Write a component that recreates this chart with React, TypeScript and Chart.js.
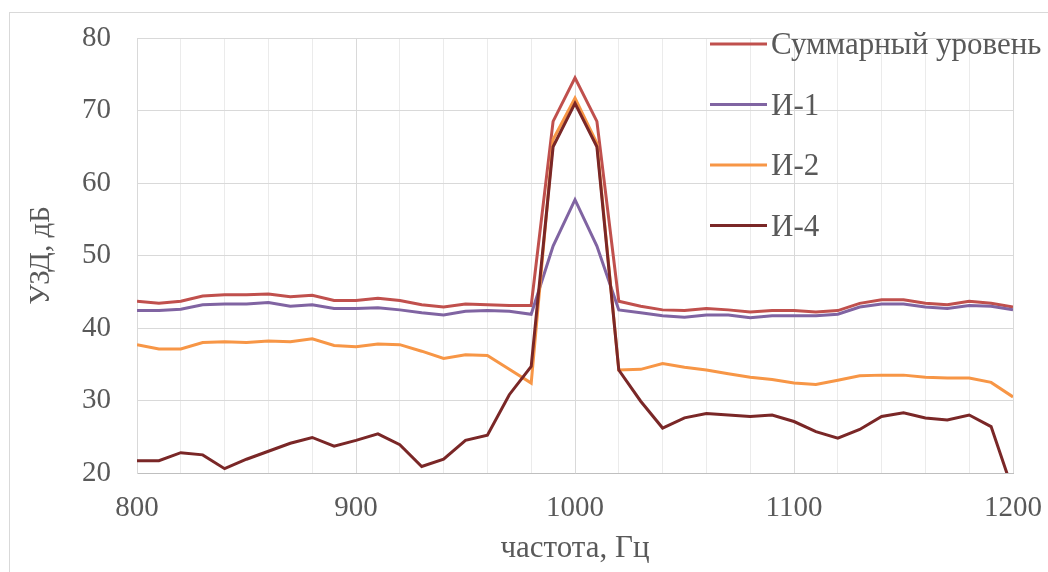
import React, { useEffect, useRef } from 'react';
import { Chart, registerables } from 'chart.js';

Chart.register(...registerables);

// Frequencies, Hz
const frequencies = [
  800, 810, 820, 830, 840, 850, 860, 870, 880, 890,
  900, 910, 920, 930, 940, 950, 960, 970, 980, 990,
  1000, 1010, 1020, 1030, 1040, 1050, 1060, 1070, 1080, 1090,
  1100, 1110, 1120, 1130, 1140, 1150, 1160, 1170, 1180, 1190,
  1200,
];

const seriesLabels = ['Суммарный уровень', 'И-1', 'И-2', 'И-4'];
const seriesColors = ['#C0504D', '#8064A2', '#F79646', '#7A2727'];

// УЗД, дБ
const sumLevel = [
  43.7, 43.4, 43.7, 44.4, 44.6, 44.6, 44.7, 44.3, 44.5, 43.8,
  43.8, 44.1, 43.8, 43.2, 42.9, 43.3, 43.2, 43.1, 43.1, 68.5,
  74.5, 68.5, 43.7, 43.0, 42.5, 42.4, 42.7, 42.5, 42.2, 42.4,
  42.4, 42.2, 42.4, 43.4, 43.9, 43.9, 43.4, 43.2, 43.7, 43.4,
  42.9,
];
const i1Level = [
  42.4, 42.4, 42.6, 43.2, 43.3, 43.3, 43.5, 43.0, 43.2, 42.7,
  42.7, 42.8, 42.5, 42.1, 41.8, 42.3, 42.4, 42.3, 41.9, 51.3,
  57.7, 51.3, 42.5, 42.1, 41.7, 41.5, 41.8, 41.8, 41.4, 41.7,
  41.7, 41.7, 41.9, 42.9, 43.3, 43.3, 42.9, 42.7, 43.1, 43.0,
  42.5,
];
const i2Level = [
  37.7, 37.1, 37.1, 38.0, 38.1, 38.0, 38.2, 38.1, 38.5, 37.6,
  37.4, 37.8, 37.7, 36.8, 35.8, 36.3, 36.2, 34.3, 32.4, 66.0,
  71.7, 65.5, 34.2, 34.3, 35.1, 34.6, 34.2, 33.7, 33.2, 32.9,
  32.4, 32.2, 32.8, 33.4, 33.5, 33.5, 33.2, 33.1, 33.1, 32.5,
  30.5,
];
const i4Level = [
  21.7, 21.7, 22.8, 22.5, 20.6, 21.9, 23.0, 24.1, 24.9, 23.7,
  24.5, 25.4, 23.9, 20.9, 21.9, 24.5, 25.2, 30.8, 34.7, 65.0,
  71.0, 65.0, 34.2, 29.9, 26.2, 27.6, 28.2, 28.0, 27.8, 28.0,
  27.1, 25.7, 24.8, 26.0, 27.8, 28.3, 27.6, 27.3, 28.0, 26.4,
  17.5,
];

const seriesValues = [sumLevel, i1Level, i2Level, i4Level];

const xLabelValues = [800, 900, 1000, 1100, 1200];
const xTitle = 'частота, Гц';
const yTitle = 'УЗД, дБ';

const FONT = '"Liberation Serif", "Times New Roman", serif';
const TEXT_COLOR = '#595959';

const frameAndLegend = {
  id: 'frameAndLegend',
  beforeDraw(chart: any) {
    const { ctx } = chart;
    ctx.save();
    ctx.strokeStyle = '#d9d9d9';
    ctx.lineWidth = 1;
    ctx.strokeRect(9.5, 12.5, 1200, 700);
    ctx.restore();
  },
  afterDatasetsDraw(chart: any) {
    const { ctx, chartArea } = chart;
    ctx.save();
    const x0 = chartArea.right - 303;
    const y0 = chartArea.top + 6;
    chart.data.datasets.forEach((ds: any, i: number) => {
      const y = y0 + i * 60.5;
      ctx.strokeStyle = ds.borderColor;
      ctx.lineWidth = 3;
      ctx.beginPath();
      ctx.moveTo(x0, y);
      ctx.lineTo(x0 + 57, y);
      ctx.stroke();
      ctx.fillStyle = TEXT_COLOR;
      ctx.font = `31px ${FONT}`;
      ctx.textAlign = 'left';
      ctx.textBaseline = 'middle';
      ctx.fillText(ds.label, x0 + 61, y + 2);
    });
    ctx.restore();
  },
};

export default function App() {
  const ref = useRef<HTMLCanvasElement>(null);

  useEffect(() => {
    document.body.style.margin = '0';
    const canvas = ref.current;
    if (!canvas) return;
    const chart = new Chart(canvas, {
      type: 'line',
      data: {
        datasets: seriesLabels.map((label, si) => ({
          label,
          data: frequencies.map((f, i) => ({ x: f, y: seriesValues[si][i] })),
          borderColor: seriesColors[si],
          backgroundColor: seriesColors[si],
          borderWidth: 3,
          pointRadius: 0,
          tension: 0,
          fill: false,
          order: seriesLabels.length - si,
        })),
      },
      options: {
        responsive: false,
        animation: false,
        events: [],
        layout: { padding: { left: 0, top: 38, right: 35, bottom: 0 } },
        plugins: {
          legend: { display: false },
          tooltip: { enabled: false },
        },
        scales: {
          x: {
            type: 'linear',
            min: 800,
            max: 1200,
            afterFit: (scale: any) => {
              scale.height = 99;
              scale.paddingLeft = 0;
              scale.paddingRight = 0;
            },
            ticks: {
              stepSize: 20,
              autoSkip: false,
              maxRotation: 0,
              minRotation: 0,
              padding: 18,
              color: TEXT_COLOR,
              font: { family: FONT, size: 29, lineHeight: 1.2 },
              callback: (v: any) => (xLabelValues.includes(Number(v)) ? String(v) : ''),
            },
            grid: {
              drawTicks: false,
              color: (c: any) =>
                c.tick && xLabelValues.includes(c.tick.value) ? '#d9d9d9' : '#ebebeb',
            },
            border: { color: '#bfbfbf', width: 1 },
            title: {
              display: true,
              text: xTitle,
              color: TEXT_COLOR,
              font: { family: FONT, size: 31, lineHeight: 1.2 },
              padding: { top: 0, bottom: 5 },
            },
          },
          y: {
            min: 20,
            max: 80,
            afterFit: (scale: any) => {
              scale.width = 137;
              scale.paddingTop = 0;
              scale.paddingBottom = 0;
            },
            ticks: {
              stepSize: 10,
              padding: 26,
              color: TEXT_COLOR,
              font: { family: FONT, size: 29, lineHeight: 1.2 },
            },
            grid: { drawTicks: false, color: '#d9d9d9' },
            border: { color: '#d9d9d9', width: 1 },
            title: {
              display: true,
              text: yTitle,
              color: TEXT_COLOR,
              font: { family: FONT, size: 29, lineHeight: 1.2 },
              padding: { top: 24, bottom: 0 },
            },
          },
        },
      },
      plugins: [frameAndLegend],
    });
    return () => chart.destroy();
  }, []);

  return (
    <div style={{ width: 1048, height: 572, position: 'relative' }}>
      <canvas ref={ref} width={1048} height={572} />
    </div>
  );
}
